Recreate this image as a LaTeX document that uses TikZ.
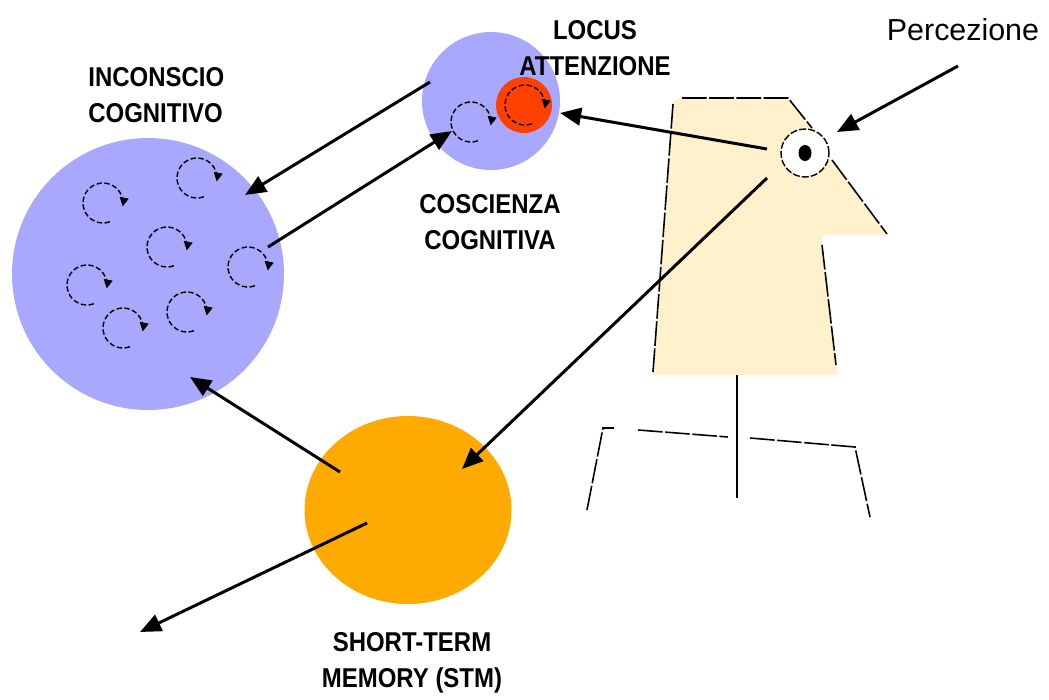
\documentclass[tikz,border=0pt]{standalone}
\usepackage{fontspec}
\setmainfont{Liberation Sans}
\newfontfamily\labfont[FakeStretch=0.88]{Liberation Sans}
\usetikzlibrary{arrows.meta,shapes.geometric}
\definecolor{mindblue}{HTML}{A8A8FF}
\definecolor{focusred}{HTML}{FF4000}
\definecolor{stmorange}{HTML}{FFAA00}
\definecolor{skin}{HTML}{FFF1CC}
\begin{document}
\begin{tikzpicture}[x=0.02cm,y=-0.02cm,
  mainarrow/.style={line width=1.7pt,-{Triangle[length=12pt,width=10pt]}},
  spin/.style={line width=0.8pt,dash pattern=on 3pt off 1.5pt,-{Triangle[length=5pt,width=5pt]}},
  outline/.style={line width=0.9pt,dash pattern=on 14pt off 1.5pt},
  blob/.style={circle,inner sep=0pt,draw=none},
  caption/.style={font=\labfont\bfseries\fontsize{15.5}{20.4}\selectfont,align=center,inner sep=0pt},
]
\useasboundingbox (0,0) rectangle (1049,700);

% memory areas
\node (inconscio) [blob,fill=mindblue,minimum size=5.44cm] at (148,274) {};
\node (coscienza) [blob,fill=mindblue,minimum size=2.76cm] at (491,101) {};
\node (locus) [blob,fill=focusred,minimum size=1.12cm] at (524,105) {};
\node (stm) [ellipse,inner sep=0pt,fill=stmorange,minimum width=4.14cm,minimum height=3.76cm] at (408,510) {};

% spinning thoughts
\foreach \cx/\cy in {103/203,197/178,167/247,248/267,87/285,123/328,187/312,471/122,525/105}
  \draw[spin] (\cx,\cy) ++(70:20) arc[start angle=70,end angle=370,radius=20];

% the head
\fill[skin] (673,102) -- (680,98) -- (788,98) -- (812,127) -- (833,162) -- (887,235)
  -- (822,235) -- (837,375) -- (653,375) -- cycle;
\draw[outline] (673,104) -- (653,372);
\draw[outline] (682,98) -- (788,98) -- (812,128);
\draw[outline] (832,160) -- (887,234);
\draw[outline] (822,245) -- (836,365);
\draw[line width=0.8pt] (737,375) -- (737,498);
\draw[outline] (587,510) -- (603,428) -- (614,428);
\draw[outline] (638,430) -- (728,437);
\draw[outline] (750,438) -- (855,447) -- (870,517);

% the eye
\node (eye) [circle,inner sep=0pt,fill=white,draw,line width=0.8pt,dash pattern=on 4pt off 1.2pt,minimum size=0.96cm] at (805,153) {};
\node (pupil) [ellipse,inner sep=0pt,fill=black,minimum width=0.26cm,minimum height=0.32cm] at (805,153) {};

% labels
\node (lblInconscio) [caption,anchor=west,align=left] at (88,95) {INCONSCIO\\COGNITIVO};
\node (lblLocus) [caption] at (595,48) {LOCUS\\ATTENZIONE};
\node (lblCoscienza) [caption] at (490,222) {COSCIENZA\\COGNITIVA};
\node (lblStm) [caption] at (412,663) {SHORT-TERM\\MEMORY (STM)};
\node (lblPercezione) [font=\fontsize{17.3}{20}\selectfont,inner sep=0pt] at (963,30) {Percezione};

% arrow end points
\coordinate (percFrom) at (958,66);
\coordinate (percTo) at (837,132);
\coordinate (eyeA) at (767,149);
\coordinate (locusIn) at (560,113);
\coordinate (eyeB) at (767,178);
\coordinate (stmIn) at (462,469);
\coordinate (cosOut) at (430,82);
\coordinate (incIn) at (245,195);
\coordinate (incOut) at (268,247);
\coordinate (cosIn) at (452,131);
\coordinate (stmOutA) at (340,472);
\coordinate (incInB) at (190,377);
\coordinate (stmOutB) at (367,523);
\coordinate (away) at (140,632);

\draw[mainarrow] (percFrom) -- (percTo);
\draw[mainarrow] (eyeA) -- (locusIn);
\draw[mainarrow] (eyeB) -- (stmIn);
\draw[mainarrow] (cosOut) -- (incIn);
\draw[mainarrow] (incOut) -- (cosIn);
\draw[mainarrow] (stmOutA) -- (incInB);
\draw[mainarrow] (stmOutB) -- (away);
\end{tikzpicture}
\end{document}
